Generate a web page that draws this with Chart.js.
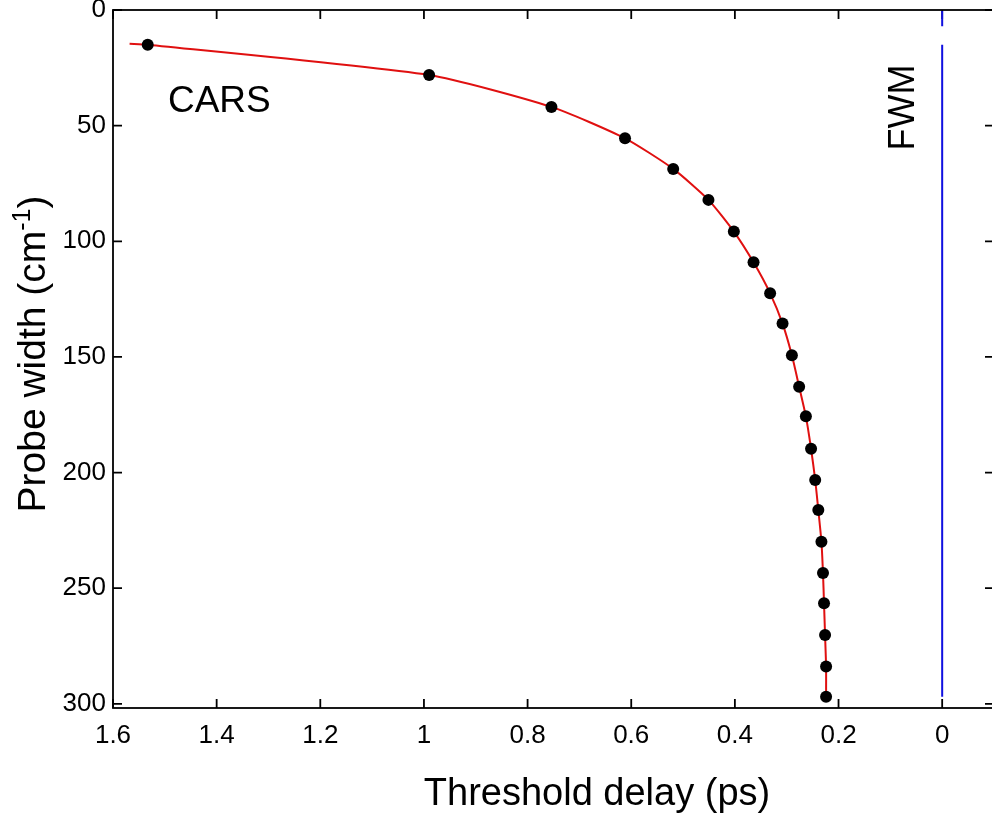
<!DOCTYPE html>
<html>
<head>
<meta charset="utf-8">
<title>Threshold delay vs probe width</title>
<script src="https://cdn.jsdelivr.net/npm/chart.js@4.4.1/dist/chart.umd.min.js"></script>
<style>
  html, body { margin: 0; padding: 0; background: #fff; overflow: hidden; }
  #wrap { position: absolute; left: 0; top: 0; width: 1000px; height: 818px; }
</style>
</head>
<body>
<div id="wrap"><canvas id="delayChart" width="1000" height="818"></canvas></div>
<script>
// measured threshold delay (ps) for each probe width (cm^-1)
const probeWidth = [15.0, 28.1, 41.9, 55.5, 68.7, 82.1, 95.8, 109.1, 122.5, 135.6, 149.3,
                    162.9, 175.7, 189.7, 203.2, 216.2, 229.9, 243.4, 256.5, 270.2, 283.9, 296.9];
const thresholdDelay = [1.533, 0.990, 0.754, 0.612, 0.519, 0.451, 0.402, 0.364, 0.332, 0.308, 0.290,
                        0.276, 0.263, 0.253, 0.245, 0.239, 0.233, 0.230, 0.228, 0.226, 0.224, 0.224];

// fitted curve, starts just before the first measured point
const fitWidth = [14.6, 15.0, 28.1, 41.9, 55.5, 68.7, 82.1, 95.8, 109.1, 122.5, 135.6, 149.3,
                  162.9, 175.7, 189.7, 203.2, 216.2, 229.9, 243.4, 256.5, 270.2, 283.9, 296.9];
const fitDelay = [1.568, 1.533, 0.990, 0.754, 0.612, 0.519, 0.451, 0.402, 0.364, 0.332, 0.308, 0.290,
                  0.276, 0.263, 0.253, 0.245, 0.239, 0.233, 0.230, 0.228, 0.226, 0.224, 0.224];

// FWM limit at zero delay (short stub at the top, then the full line)
const fwmWidth = [0.4, 7.0, 11.0, 15.0, 296.9];
const fwmDelay = [0, 0, null, 0, 0];

const xTicks = [1.6, 1.4, 1.2, 1, 0.8, 0.6, 0.4, 0.2, 0];
const yTicks = [0, 50, 100, 150, 200, 250, 300];

const FONT = '"Liberation Sans", Arial, Helvetica, sans-serif';

function pairs(xs, ys) {
    return xs.map((v, i) => ({ x: ys[i], y: v }));
}

const boxAndLabels = {
    id: 'boxAndLabels',
    beforeDatasetsDraw(chart) {
        const { ctx, chartArea: a, scales: { x, y } } = chart;
        const len = 9;
        ctx.save();
        ctx.strokeStyle = '#000';
        ctx.lineWidth = 1.8;
        ctx.strokeRect(a.left, a.top, a.right - a.left, a.bottom - a.top);
        ctx.beginPath();
        x.ticks.forEach(t => {
            const px = x.getPixelForValue(t.value);
            ctx.moveTo(px, a.bottom); ctx.lineTo(px, a.bottom - len);
            ctx.moveTo(px, a.top); ctx.lineTo(px, a.top + len);
        });
        y.ticks.forEach(t => {
            const py = y.getPixelForValue(t.value);
            ctx.moveTo(a.left, py); ctx.lineTo(a.left + len, py);
            ctx.moveTo(a.right, py); ctx.lineTo(a.right - len, py);
        });
        ctx.stroke();
        ctx.restore();
    },
    afterDraw(chart) {
        const { ctx, scales: { x, y } } = chart;
        ctx.save();
        ctx.fillStyle = '#000';

        // series labels placed in data space
        ctx.font = '37px ' + FONT;
        ctx.textAlign = 'left';
        ctx.textBaseline = 'alphabetic';
        ctx.fillText('CARS', x.getPixelForValue(1.494), y.getPixelForValue(44));

        ctx.save();
        ctx.translate(x.getPixelForValue(0.054), y.getPixelForValue(42.2));
        ctx.rotate(-Math.PI / 2);
        ctx.textAlign = 'center';
        ctx.font = '36px ' + FONT;
        ctx.fillText('FWM', 0, 0);
        ctx.restore();

        // x axis title
        ctx.font = '38px ' + FONT;
        ctx.textAlign = 'center';
        ctx.fillText('Threshold delay (ps)', 597, 805);

        // y axis title with superscript
        ctx.save();
        ctx.translate(45, 0);
        ctx.rotate(-Math.PI / 2);
        const main = 'Probe width (cm';
        const sup = '-1';
        ctx.font = '39px ' + FONT;
        const w1 = ctx.measureText(main).width;
        const w3 = ctx.measureText(')').width;
        ctx.font = '25px ' + FONT;
        const w2 = ctx.measureText(sup).width;
        const total = w1 + w2 + w3;
        const start = -354 - total / 2;
        ctx.textAlign = 'left';
        ctx.font = '39px ' + FONT;
        ctx.fillText(main, start, 0);
        ctx.font = '25px ' + FONT;
        ctx.fillText(sup, start + w1, -15);
        ctx.font = '39px ' + FONT;
        ctx.fillText(')', start + w1 + w2, 0);
        ctx.restore();

        ctx.restore();
    }
};

new Chart(document.getElementById('delayChart'), {
    type: 'line',
    data: {
        datasets: [
            {
                label: 'CARS data',
                data: pairs(probeWidth, thresholdDelay),
                showLine: false,
                pointRadius: 6,
                pointBackgroundColor: '#000',
                pointBorderWidth: 0,
                order: 0
            },
            {
                label: 'CARS fit',
                data: pairs(fitWidth, fitDelay),
                borderColor: '#e01010',
                borderWidth: 2,
                pointRadius: 0,
                tension: 0.2,
                order: 1
            },
            {
                label: 'FWM',
                data: pairs(fwmWidth, fwmDelay),
                borderColor: '#1010e0',
                borderWidth: 2,
                pointRadius: 0,
                tension: 0,
                order: 2
            }
        ]
    },
    options: {
        responsive: false,
        animation: false,
        indexAxis: 'y',
        layout: { padding: { left: 0, top: 10, right: 3, bottom: 0 } },
        plugins: {
            legend: { display: false },
            tooltip: { enabled: false }
        },
        scales: {
            x: {
                type: 'linear',
                position: 'bottom',
                reverse: true,
                min: -0.1,
                max: 1.6,
                grid: { display: false, drawTicks: false },
                border: { display: false },
                afterBuildTicks: s => { s.ticks = xTicks.map(v => ({ value: v })); },
                afterFit: s => { s.height = 110; s.paddingLeft = 0; s.paddingRight = 0; },
                ticks: {
                    padding: 12,
                    color: '#000',
                    maxRotation: 0,
                    font: { family: FONT, size: 26 },
                    callback: v => String(v)
                }
            },
            y: {
                type: 'linear',
                position: 'left',
                reverse: true,
                min: 0,
                max: 301.8,
                grid: { display: false, drawTicks: false },
                border: { display: false },
                afterBuildTicks: s => { s.ticks = yTicks.map(v => ({ value: v })); },
                afterFit: s => { s.width = 113; s.paddingTop = 0; s.paddingBottom = 0; },
                ticks: {
                    padding: 7,
                    color: '#000',
                    font: { family: FONT, size: 26 },
                    callback: v => String(v)
                }
            }
        }
    },
    plugins: [boxAndLabels]
});
</script>
</body>
</html>
